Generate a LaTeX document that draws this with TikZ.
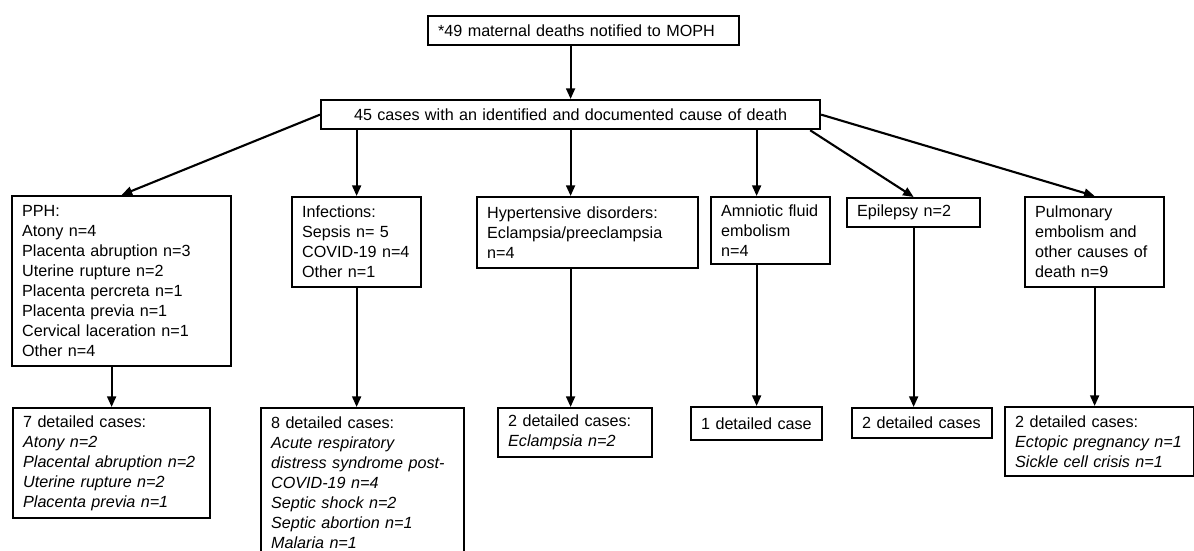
\documentclass[tikz,border=0pt]{standalone}
\usepackage{fontspec}
\setmainfont{Liberation Sans}
\usepackage{tikz}
\usetikzlibrary{arrows.meta,positioning}

\begin{document}
\begin{tikzpicture}[
    x=0.02cm, y=-0.02cm,
    font=\fontsize{9.2pt}{11.4pt}\selectfont,
    cbox/.style={draw, line width=1.3pt, anchor=north west, inner xsep=0.2cm, inner ysep=0pt, align=left,
                 execute at begin node={\hyphenpenalty=10000 \exhyphenpenalty=10000 }},
    link/.style={-{Triangle[length=6pt, width=5pt]}, line width=1.2pt}
]
\useasboundingbox (0,0) rectangle (1194,551);
\clip (0,0) rectangle (1194,551);

% top levels
\node[cbox, text width=5.82cm, minimum height=0.58cm] (top) at (427,15) {*49 maternal deaths notified to MOPH};
\node[cbox, align=center, text width=9.58cm, minimum height=0.58cm] (cases) at (320,99) {45 cases with an identified and documented cause of death};

% causes
\node[cbox, text width=3.98cm, minimum height=3.40cm] (pph) at (11,195) {PPH:\\ Atony n=4\\ Placenta abruption n=3\\ Uterine rupture n=2\\ Placenta percreta n=1\\ Placenta previa n=1\\ Cervical laceration n=1\\ Other n=4};
\node[cbox, text width=2.18cm, minimum height=1.80cm] (inf) at (291,196) {Infections:\\ Sepsis~n=~5\\ COVID-19~n=4\\ Other n=1};
\node[cbox, text width=4.02cm, minimum height=1.42cm] (hyp) at (476,196) {Hypertensive disorders:\\ Eclampsia/preeclampsia\\ n=4};
\node[cbox, text width=1.98cm, minimum height=1.34cm] (amn) at (710,196) {Amniotic~fluid\\ embolism\\ n=4};
\node[cbox, text width=2.26cm, minimum height=0.58cm] (ep) at (846,197) {Epilepsy n=2};
\node[cbox, text width=2.38cm, minimum height=1.80cm] (pul) at (1024,196) {Pulmonary\\ embolism and\\ other causes of\\ death n=9};

% detailed cases
\node[cbox, text width=3.54cm, minimum height=2.20cm] (pphd) at (12,407) {7 detailed cases:\\ \itshape Atony n=2\\ \itshape Placental~abruption~n=2\\ \itshape Uterine rupture n=2\\ \itshape Placenta previa n=1};
\node[cbox, text width=3.66cm, minimum height=2.98cm] (infd) at (260,407) {8 detailed cases:\\ \itshape Acute respiratory\\ \itshape distress~syndrome~post-\\ \itshape COVID-19~n=4\\ \itshape Septic shock n=2\\ \itshape Septic abortion n=1\\ \itshape Malaria n=1};
\node[cbox, text width=2.68cm, minimum height=0.98cm] (hypd) at (497,407) {2 detailed cases:\\ \itshape Eclampsia n=2};
\node[cbox, text width=2.22cm, minimum height=0.66cm] (amnd) at (690,406) {1~detailed~case};
\node[cbox, text width=2.40cm, minimum height=0.60cm] (epd) at (851,407) {2~detailed~cases};
\node[cbox, text width=3.38cm, minimum height=1.38cm] (puld) at (1004,406) {2 detailed cases:\\ \itshape Ectopic~pregnancy~n=1\\ \itshape Sickle cell crisis n=1};

\draw[link] (top.south -| cases.north) -- (cases.north);
\draw[link] (cases.west) -- (pph.north);
\draw[link] (cases.south -| inf.north) -- (inf.north);
\draw[link] (cases.south) -- (cases.south |- hyp.north);
\draw[link] (cases.south -| amnd.north) -- (amn.north -| amnd.north);
\draw[link] ([xshift=-0.22cm]cases.south east) -- (ep.north);
\draw[link] (cases.east) -- (pul.north);

\foreach \a/\b in {pph/pphd, amn/amnd}
  \draw[link] (\a.south -| \b.north) -- (\b.north);
\foreach \a/\b in {inf/infd, ep/epd, pul/puld}
  \draw[link] (\a.south) -- (\a.south |- \b.north);
\draw[link] (hyp.south -| cases.south) -- (hypd.north -| cases.south);
\end{tikzpicture}
\end{document}
